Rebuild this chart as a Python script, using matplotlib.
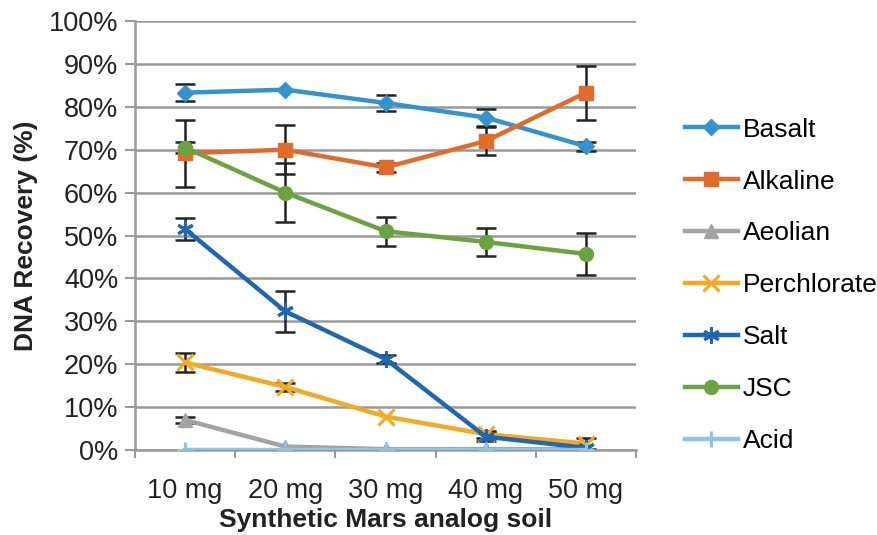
import matplotlib.pyplot as plt
from matplotlib.ticker import FuncFormatter

plt.rcParams['font.family'] = ['Liberation Sans', 'DejaVu Sans']

# soil amounts on the x axis
doses = ["10 mg", "20 mg", "30 mg", "40 mg", "50 mg"]

# DNA recovery (%) and error (%) for each analog soil
basalt = [83.3, 84.0, 80.9, 77.5, 70.8]
basalt_err = [2.0, 0.0, 1.8, 2.0, 1.0]
alkaline = [69.2, 70.0, 65.9, 72.0, 83.3]
alkaline_err = [7.8, 5.7, 1.0, 3.2, 6.3]
aeolian = [7.0, 0.8, 0.2, 0.2, 0.2]
aeolian_err = [0.8, 0.0, 0.0, 0.0, 0.0]
perchlorate = [20.4, 14.7, 7.8, 3.7, 1.5]
perchlorate_err = [2.2, 1.0, 0.0, 0.8, 1.2]
salt = [51.5, 32.3, 21.2, 3.1, 0.5]
salt_err = [2.6, 4.8, 1.0, 1.0, 0.0]
jsc = [70.5, 60.0, 51.0, 48.5, 45.7]
jsc_err = [1.2, 6.8, 3.4, 3.2, 4.8]
acid = [0.0, 0.0, 0.0, 0.0, 0.0]
acid_err = [0.0, 0.0, 0.0, 0.0, 0.0]

series = [
    ("Basalt", basalt, basalt_err, "#3293d0", "D", 8),
    ("Alkaline", alkaline, alkaline_err, "#e26b2a", "s", 10),
    ("Aeolian", aeolian, aeolian_err, "#a3a3a3", "^", 10),
    ("Perchlorate", perchlorate, perchlorate_err, "#f4a91f", "x", 11),
    ("Salt", salt, salt_err, "#1f67b5", (6, 2, 0), 12),
    ("JSC", jsc, jsc_err, "#6aa33f", "o", 10),
    ("Acid", acid, acid_err, "#8cc3ea", "+", 12),
]

fig = plt.figure(figsize=(8.78, 5.35), dpi=100)
ax = fig.add_axes([0.1538, 0.1589, 0.5706, 0.8018])

x = list(range(len(doses)))

# error bars first, lines and markers on top
for name, vals, errs, col, mk, ms in series:
    xs = [i for i in x if errs[i] > 0]
    ys = [vals[i] for i in xs]
    es = [errs[i] for i in xs]
    if xs:
        ax.errorbar(xs, ys, yerr=es, fmt='none', ecolor='#222222',
                    elinewidth=1.8, capsize=7, capthick=1.8, zorder=2)

handles = []
for name, vals, errs, col, mk, ms in series:
    h, = ax.plot(x, vals, color=col, lw=3.2, marker=mk, markersize=ms,
                 markeredgewidth=2.2 if mk in ("x", "+", (6, 2, 0)) else 1,
                 markeredgecolor=col, label=name, zorder=3)
    handles.append(h)

ax.set_xlim(-0.5, len(doses) - 0.5)
ax.set_ylim(0, 100)
ax.set_yticks(range(0, 101, 10))
ax.yaxis.set_major_formatter(FuncFormatter(lambda v, p: "%d%%" % v))
ax.set_xticks(x)
ax.set_xticklabels(doses)
ax.set_xticks([i - 0.5 for i in range(len(doses) + 1)], minor=True)
ax.tick_params(axis='x', which='major', length=0, pad=20, labelsize=19.5, labelcolor='#222222')
ax.tick_params(axis='x', which='minor', length=6, width=1.5, color='#999999')
ax.tick_params(axis='y', length=7, width=1.5, color='#999999', labelsize=19.5,
               labelcolor='#222222', pad=5)

ax.grid(axis='y', color='#999999', lw=1.8)
ax.set_axisbelow(True)
for s in ["top", "right"]:
    ax.spines[s].set_visible(False)
for s in ["left", "bottom"]:
    ax.spines[s].set_color('#999999')
    ax.spines[s].set_linewidth(1.8)

ax.set_ylabel("DNA Recovery (%)", fontsize=19, fontweight='bold', color='#222222', labelpad=8)
ax.set_xlabel("Synthetic Mars analog soil", fontsize=19, fontweight='bold', color='#222222', labelpad=3)

fig.legend(handles=handles, loc='upper left', bbox_to_anchor=(0.768, 0.8),
           frameon=False, fontsize=19, handlelength=2.0, handletextpad=0.2,
           labelspacing=1.06, borderaxespad=0)

plt.savefig('out.png', dpi=100)
